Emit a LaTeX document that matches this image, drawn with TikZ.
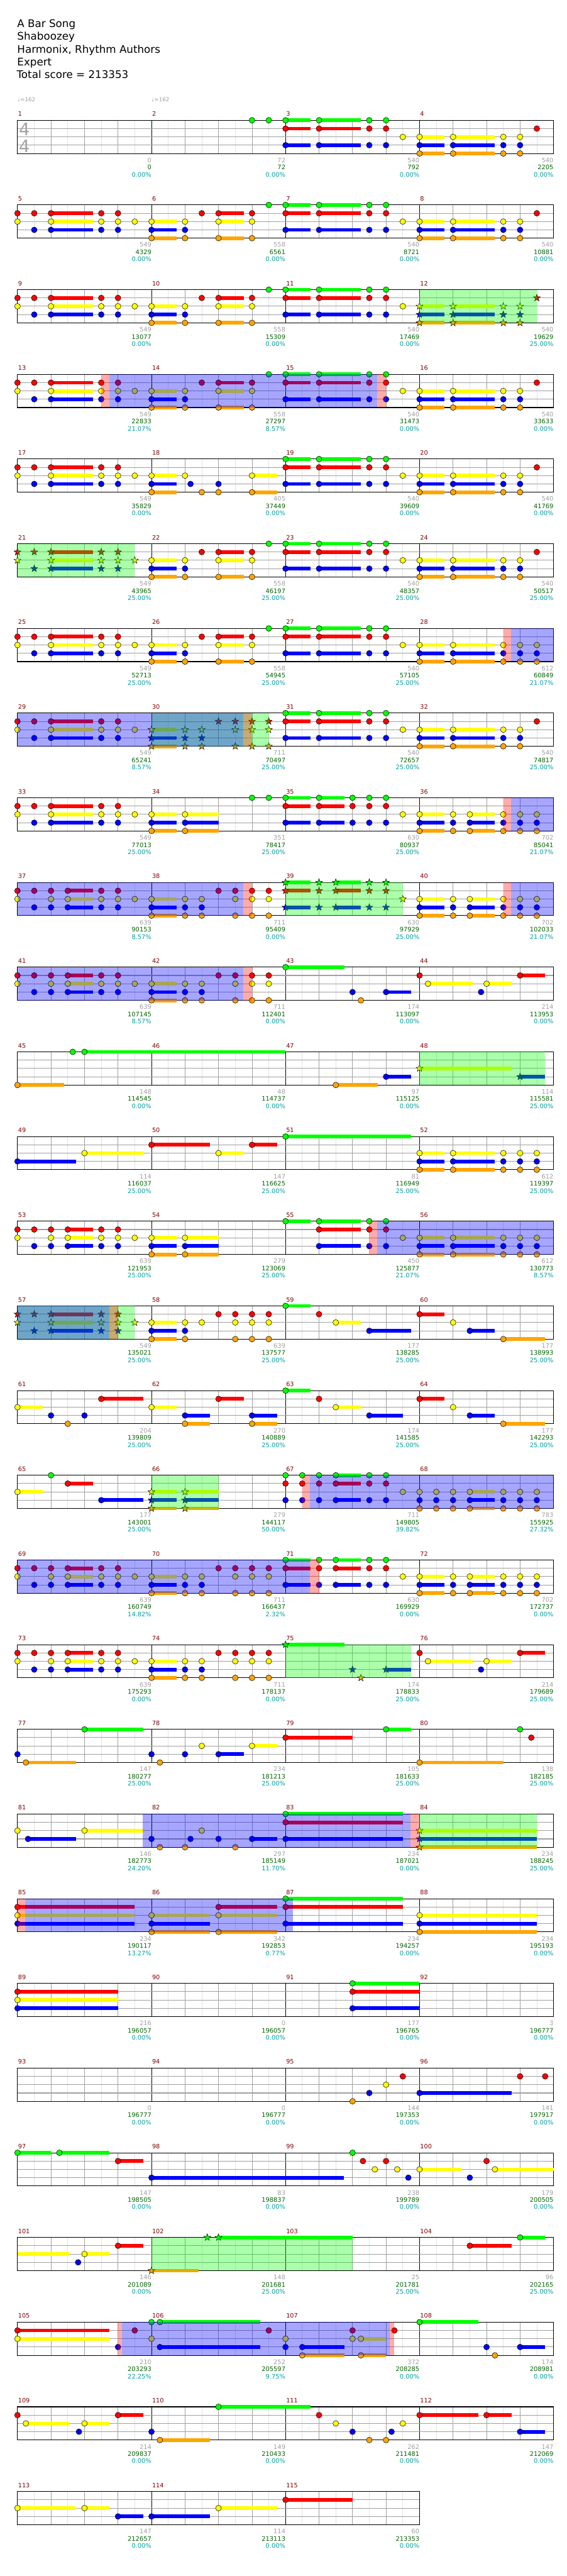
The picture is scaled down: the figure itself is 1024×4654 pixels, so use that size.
\documentclass[tikz,border=0pt]{standalone}
\usepackage{fontspec}
\setmainfont{DejaVu Sans}
\definecolor{lc0}{HTML}{00FF00}
\definecolor{lc1}{HTML}{FF0000}
\definecolor{lc2}{HTML}{FFFF00}
\definecolor{lc3}{HTML}{0000FF}
\definecolor{lc4}{HTML}{FFA500}
\definecolor{grideighth}{HTML}{E2E2E2}
\definecolor{gridbeat}{HTML}{A0A0A0}
\definecolor{lanegray}{HTML}{A0A0A0}
\definecolor{mred}{HTML}{800000}
\definecolor{lgray}{HTML}{A0A0A0}
\definecolor{lgreen}{HTML}{006400}
\definecolor{lteal}{HTML}{00A0A0}
\definecolor{tsgray}{HTML}{A4A4A4}
\tikzset{
  notestyle/.style={draw=black,line width=0.6},
  mnum/.style={font=\fontsize{11}{12}\selectfont,text=mred,inner sep=0,anchor=base west},
  lbl/.style={font=\fontsize{11.2}{12}\selectfont,inner sep=0,anchor=base east},
  titletext/.style={font=\fontsize{19}{22}\selectfont,inner sep=0,anchor=base west},
  tempo/.style={font=\fontsize{10}{11}\selectfont,text=lgray,inner sep=0,anchor=base west},
  tsig/.style={font=\fontsize{31}{32}\selectfont,text=tsgray,inner sep=0,anchor=base west},
  ovg/.style={fill=lc0,fill opacity=0.33},
  ovp/.style={fill=lc1,fill opacity=0.33},
  ovb/.style={fill=lc3,fill opacity=0.35},
}
% position of measure #1, eighth #2
\newcommand\mpos[2]{%
  \pgfmathtruncatemacro\Rw{(#1-0.5)/4}%
  \pgfmathsetmacro\Xp{31.6+242.25*(#1-1-4*\Rw)+30.28*(#2)}%
  \pgfmathsetmacro\Tp{217.3+153*\Rw}%
}
\newcommand\noteC[4]{\mpos{#1}{#2}\pgfmathsetmacro\Yp{\Tp+15*#3}%
  \ifdim #4pt>0pt \fill[lc#3] (\Xp,\Yp-3.3) rectangle ({\Xp+30.28*#4},\Yp+3.3);\fi
  \draw[notestyle,fill=lc#3] (\Xp,\Yp) circle (5.2);}
\newcommand\noteS[4]{\mpos{#1}{#2}\pgfmathsetmacro\Yp{\Tp+15*#3}%
  \ifdim #4pt>0pt \fill[lc#3] (\Xp,\Yp-3.3) rectangle ({\Xp+30.28*#4},\Yp+3.3);\fi
  \draw[notestyle,fill=lc#3] (\Xp,\Yp) +(-90:6.6) -- +(-54:2.7) -- +(-18:6.6) -- +(18:2.7) -- +(54:6.6) -- +(90:2.7) -- +(126:6.6) -- +(162:2.7) -- +(198:6.6) -- +(234:2.7) -- cycle;}
\newcommand\susbar[4]{\mpos{#1}{#2}\pgfmathsetmacro\Yp{\Tp+15*#3}%
  \fill[lc#3] (\Xp,\Yp-3.3) rectangle ({\Xp+30.28*#4},\Yp+3.3);}
\newcommand\chd[4]{\foreach \lane in {#3}{\noteC{#1}{#2}{\lane}{#4}}}
\newcommand\schd[4]{\foreach \lane in {#3}{\noteS{#1}{#2}{\lane}{#4}}}
\newcommand\ovl[4]{\mpos{#2}{#3}%
  \fill[#1] (\Xp,\Tp) rectangle ({\Xp+30.28*(#4-#3)},\Tp+60);}
\newcommand\rowgrid[2]{%
  \pgfmathsetmacro\Tr{217.3+153*#1}%
  \pgfmathsetmacro\Rr{31.6+242.25*#2}%
  \pgfmathtruncatemacro\Nr{8*#2-1}%
  \foreach \k in {1,...,\Nr}{%
    \pgfmathtruncatemacro\mk{mod(\k,8)}%
    \pgfmathtruncatemacro\mh{mod(\k,2)}%
    \ifnum\mk=0 \def\gc{black}\else\ifnum\mh=1 \def\gc{grideighth}\else\def\gc{gridbeat}\fi\fi
    \draw[\gc,line width=0.9] ({31.6+30.28*\k},\Tr) -- ({31.6+30.28*\k},\Tr+60);
  }%
  \foreach \j in {1,2,3}{\draw[lanegray,line width=1.2] (31.6,\Tr+15*\j) -- (\Rr,\Tr+15*\j);}%
  \draw[black,line width=1.2] (31.6,\Tr) rectangle (\Rr,\Tr+60);
}
\newcommand\meas[4]{%
  \mpos{#1}{0}%
  \node[mnum] (n#1) at (\Xp+1,\Tp-7.3) {#1};
  \mpos{#1}{8}%
  \node[lbl,text=lgray] (a#1) at (\Xp,\Tp+76.2) {#2};
  \node[lbl,text=lgreen] (b#1) at (\Xp,\Tp+89.2) {#3};
  \node[lbl,text=lteal] (c#1) at (\Xp,\Tp+102.2) {#4\%};
}
% patterns
\newcommand\PatA[2][\chd]{#1{#2}{0}{0,1,3}{1.5}#1{#2}{2}{0,1,3}{2.5}#1{#2}{5}{0,1,3}{0}#1{#2}{6}{0,1,3}{0}#1{#2}{7}{2}{0}}
\newcommand\PatB[2][\chd]{#1{#2}{0}{2,3,4}{1.5}#1{#2}{2}{2,3,4}{2.5}#1{#2}{5}{2,3,4}{0}#1{#2}{6}{2,3,4}{0}#1{#2}{7}{1}{0}}
\newcommand\PatBx[2][\chd]{#1{#2}{0}{2,3,4}{1.5}#1{#2}{2}{2,3,4}{2.5}#1{#2}{5}{2,3,4}{0}#1{#2}{6}{2,3,4}{0}#1{#2}{7}{2,3,4}{0}}
\newcommand\PatC[2][\chd]{#1{#2}{0}{1,2}{0}#1{#2}{1}{1,3}{0}#1{#2}{2}{1,2,3}{2.5}#1{#2}{5}{1,2,3}{0}#1{#2}{6}{1,2,3}{0}#1{#2}{7}{2}{0}}
\newcommand\PatD[2][\chd]{#1{#2}{0}{2,3,4}{1.5}#1{#2}{2}{2,3,4}{0}#1{#2}{3}{1}{0}#1{#2}{4}{1,2,4}{1.5}#1{#2}{6}{1,2,4}{0}#1{#2}{7}{0}{0}}
\newcommand\PatE[2][\chd]{#1{#2}{0}{1,2}{0}#1{#2}{1}{1,3}{0}#1{#2}{2}{1,2,3}{0}#1{#2}{3}{1,2,3}{1.5}#1{#2}{5}{1,2,3}{0}#1{#2}{6}{1,2,3}{0}#1{#2}{7}{2}{0}}
\newcommand\PatF[2][\chd]{#1{#2}{0}{2,3,4}{1.5}#1{#2}{2}{2,3,4}{0}#1{#2}{3}{2,3,4}{0}#1{#2}{4}{1}{0}#1{#2}{5}{1,2,4}{0}#1{#2}{6}{1,2,4}{0}#1{#2}{7}{1,2,4}{0}}
\newcommand\PatG[2][\chd]{#1{#2}{0}{2,3,4}{1.5}#1{#2}{2}{2,3,4}{0}#1{#2}{3}{2,3,4}{1.5}#1{#2}{5}{2,3,4}{0}#1{#2}{6}{2,3,4}{0}#1{#2}{7}{2,3,4}{0}}
\newcommand\PatH[2][\chd]{#1{#2}{0}{0,1,3}{1.5}#1{#2}{2}{0,1,3}{0}#1{#2}{3}{0,1,3}{1.5}#1{#2}{5}{0,1,3}{0}#1{#2}{6}{0,1,3}{0}#1{#2}{7}{2}{0}}
\begin{document}
\begin{tikzpicture}[x=1pt,y=-1pt]
\fill[white] (0,0) rectangle (1024,4654);
\useasboundingbox (0,0) rectangle (1024,4654);
% header
\node[titletext] (t1) at (31,49.5) {A Bar Song};
\node[titletext] (t2) at (31,72.5) {Shaboozey};
\node[titletext] (t3) at (31,95.5) {Harmonix, Rhythm Authors};
\node[titletext] (t4) at (31,118.2) {Expert};
\node[titletext] (t5) at (30,141) {Total score = 213353};
\node[tempo] (tp1) at (31.6,184) {♩=162};
\node[tempo] (tp2) at (273.9,184) {♩=162};
% grids
\foreach \r in {0,...,27}{\rowgrid{\r}{4}}
\rowgrid{28}{3}
\node[tsig] (ts1) at (34,245) {4};
\node[tsig] (ts2) at (34,275) {4};
% notes
\chd{2}{6}{0}{0}\chd{2}{7}{0}{0}\PatA{3}\PatB{4}
\PatC{5}\PatD{6}\PatA{7}\PatB{8}
\PatC{9}\PatD{10}\PatA{11}\PatB[\schd]{12}
\PatC{13}\PatD{14}\PatA{15}\PatB{16}
\PatC{17}
\chd{18}{0}{2,3,4}{1.5}\chd{18}{2}{2}{0}\chd{18}{2.33}{3}{0}\chd{18}{3}{4}{0}\chd{18}{4}{3,4}{0}\chd{18}{6}{2,4}{1.5}
\PatA{19}\PatB{20}
\PatC[\schd]{21}\PatD{22}\PatA{23}\PatB{24}
\PatC{25}\PatD{26}\PatA{27}\PatBx{28}
\PatC{29}\PatF[\schd]{30}\PatA{31}\PatB{32}
\PatC{33}
\chd{34}{0}{2,3,4}{1.5}\chd{34}{2}{2,3,4}{2}\chd{34}{6}{0}{0}\chd{34}{7}{0}{0}
\chd{35}{0}{0,1,3}{1.5}\chd{35}{2}{0,1,3}{1.5}\chd{35}{4}{0,1,3}{0}\chd{35}{5}{0,1,3}{0}\chd{35}{6}{0,1,3}{0}\chd{35}{7}{2}{0}
\PatG{36}
\PatE{37}\PatF{38}\PatH[\schd]{39}\PatG{40}
\PatE{41}\PatF{42}
\chd{43}{0}{0}{3.5}\chd{43}{4}{3}{0}\chd{43}{4.5}{4}{0}\chd{43}{6}{3}{1.5}
\chd{44}{0}{1}{0}\chd{44}{0.5}{2}{2.66}\chd{44}{3.67}{3}{0}\chd{44}{4}{2}{1.5}\chd{44}{6}{1}{1.5}
\chd{45}{0}{4}{2.8}\chd{45}{3.3}{0}{0}\chd{45}{4}{0}{12}
\chd{47}{3}{4}{2.5}\chd{47}{6}{3}{1.5}
\schd{48}{0}{2}{5.5}\schd{48}{6}{3}{1.5}
\chd{49}{0}{3}{3.5}\chd{49}{4}{2}{3.5}
\chd{50}{0}{1}{3.5}\chd{50}{4}{2}{1.5}\chd{50}{6}{1}{1.5}
\chd{51}{0}{0}{7.5}
\PatBx{52}
\PatE{53}
\chd{54}{0}{2,3,4}{1.5}\chd{54}{2}{2,3,4}{2}
\chd{55}{0}{0}{1.5}\chd{55}{2}{0,1,3}{2.5}\chd{55}{5}{0,1,3}{0}\chd{55}{6}{0,1,3}{0}\chd{55}{7}{2}{0}
\PatBx{56}
\PatC[\schd]{57}
\chd{58}{0}{2,3,4}{1.5}\chd{58}{2}{2,3,4}{0}\chd{58}{3}{2}{0}\chd{58}{4}{1}{0}\chd{58}{5}{1,2,4}{0}\chd{58}{6}{1,2,4}{0}\chd{58}{7}{1,2,4}{0}
\chd{59}{0}{0}{1.5}\chd{59}{2}{1}{0}\chd{59}{3}{2}{1.5}\chd{59}{5}{3}{2.5}
\chd{60}{0}{1}{1.5}\chd{60}{2}{2}{0}\chd{60}{3}{3}{1.5}\chd{60}{5}{4}{2.5}
\chd{61}{0}{2}{1.5}\chd{61}{2}{3}{0}\chd{61}{3}{4}{0}\chd{61}{4}{3}{0}\chd{61}{5}{1}{2.5}
\chd{62}{0}{2}{1.5}\chd{62}{2}{3,4}{1.5}\chd{62}{4}{1}{1.5}\chd{62}{6}{3,4}{1.5}
\chd{63}{0}{0}{1.5}\chd{63}{2}{1}{0}\chd{63}{3}{2}{1.5}\chd{63}{5}{3}{2}
\chd{64}{0}{1}{1.5}\chd{64}{2}{2}{0}\chd{64}{3}{3}{1.5}\chd{64}{5}{4}{2.5}
\chd{65}{0}{2}{1.5}\chd{65}{2}{0}{0}\chd{65}{3}{1}{1.5}\chd{65}{5}{3}{2.5}
\schd{66}{0}{2,3,4}{1.5}\schd{66}{2}{2,3,4}{2}
\chd{67}{0}{0,1,3}{0}\chd{67}{1}{0,1,3}{0}\chd{67}{2}{0,1,3}{0}\chd{67}{3}{0,1,3}{1.5}\chd{67}{5}{0,1,3}{0}\chd{67}{6}{0,1,3}{0}\chd{67}{7}{2}{0}
\chd{68}{0}{2,3,4}{0}\chd{68}{1}{2,3,4}{0}\chd{68}{2}{2,3,4}{0}\chd{68}{3}{2,3,4}{1.5}\chd{68}{5}{2,3,4}{0}\chd{68}{6}{2,3,4}{0}\chd{68}{7}{2,3,4}{0}
\PatE{69}\PatF{70}\PatH{71}\PatG{72}
\PatE{73}\PatF{74}
\schd{75}{0}{0}{3.5}\schd{75}{4}{3}{0}\schd{75}{4.5}{4}{0}\schd{75}{6}{3}{1.5}
\chd{76}{0}{1}{0}\chd{76}{0.5}{2}{2.66}\chd{76}{3.67}{3}{0}\chd{76}{4}{2}{1.5}\chd{76}{6}{1}{1.5}
\chd{77}{0}{3}{0}\chd{77}{0.5}{4}{3}\chd{77}{4}{0}{3.5}
\chd{78}{0}{3}{0}\chd{78}{0.5}{4}{0}\chd{78}{2}{3}{0}\chd{78}{3}{2}{0}\chd{78}{4}{3}{1.5}\chd{78}{6}{2}{1.5}
\chd{79}{0}{1}{4}\chd{79}{6}{0}{1.5}
\chd{80}{0}{4}{5}\chd{80}{6}{0}{0}\chd{80}{6.67}{1}{0}
\chd{81}{0}{2}{0}\chd{81}{0.63}{3}{2.85}\chd{81}{4}{2}{3.5}
\chd{82}{0}{3}{0}\chd{82}{0.5}{4}{0}\chd{82}{2}{4}{0}\chd{82}{2.33}{3}{0}\chd{82}{3}{2}{0}\chd{82}{4}{3}{0}\chd{82}{5}{4}{0}\chd{82}{6}{3}{1.5}
\chd{83}{0}{0,1,3}{7}
\schd{84}{0}{2,3,4}{7}
\chd{85}{0}{1,2,3}{7}
\chd{86}{0}{2,3,4}{3.5}\chd{86}{4}{1,2,4}{3.5}
\chd{87}{0}{0,1,3}{7}
\chd{88}{0}{2,3,4}{7}
\chd{89}{0}{1,2,3}{6}
\chd{91}{4}{0,1,3}{4}
\chd{95}{4}{4}{0}\chd{95}{5}{3}{0}\chd{95}{6}{2}{0}\chd{95}{7}{1}{0}
\chd{96}{0}{3}{5.5}\chd{96}{6}{1}{0}\chd{96}{7.5}{1}{0}
\chd{97}{0}{0}{2}\chd{97}{2.5}{0}{3}\chd{97}{6}{1}{1.5}
\chd{98}{0}{3}{11.5}
\chd{99}{4}{0}{0}\chd{99}{4.62}{1}{0}\chd{99}{5.33}{2}{0}\chd{99}{6}{1}{0}\chd{99}{6.67}{2}{0}\chd{99}{7.33}{3}{0}
\chd{100}{0}{2}{2.5}\chd{100}{3}{3}{0}\chd{100}{4}{1}{0}\chd{100}{4.5}{2}{3.5}
\susbar{101}{0}{2}{3.1}\chd{101}{3.62}{3}{0}\chd{101}{4}{2}{1.5}\chd{101}{6}{1}{1.5}
\schd{102}{0}{4}{2.83}\schd{102}{3.33}{0}{0}\schd{102}{4}{0}{8}
\chd{104}{3}{1}{2.5}\chd{104}{6}{0}{1.5}
\chd{105}{0}{1,2}{5.5}\chd{105}{6}{3}{0}\chd{105}{7}{1}{0}
\chd{106}{0}{0,2}{0}\chd{106}{0.5}{0,3}{6}\chd{106}{7}{1}{0}
\chd{107}{0}{2,3}{0}\chd{107}{1}{3,4}{2.5}\chd{107}{4}{1,2}{0}\chd{107}{4.5}{2,4}{1.5}\chd{107}{6.5}{1}{0}
\chd{108}{0}{0}{3.5}\chd{108}{4}{3}{0}\chd{108}{4.5}{4}{0}\chd{108}{6}{3}{1.5}
\chd{109}{0}{1}{0}\chd{109}{0.5}{2}{2.6}\chd{109}{3.67}{3}{0}\chd{109}{4}{2}{1.5}\chd{109}{6}{1}{1.5}
\chd{110}{0}{3}{0}\chd{110}{0.5}{4}{3}\chd{110}{4}{0}{5.5}
\chd{111}{2}{1}{0}\chd{111}{3}{2}{0}\chd{111}{4}{3}{0}\chd{111}{5}{4}{0}\chd{111}{6}{4}{0}\chd{111}{6.33}{3}{0}\chd{111}{7}{2}{0}
\chd{112}{0}{1}{3.5}\chd{112}{4}{1}{1.5}\chd{112}{6}{3}{1.5}
\chd{113}{0}{2}{3.5}\chd{113}{4}{2}{1.5}\chd{113}{6}{3}{1.5}
\chd{114}{0}{3}{3.5}\chd{114}{4}{2}{3.5}
\chd{115}{0}{1}{4}
% overlays: green, then pink, then blue
\ovl{ovg}{12}{0}{7}\ovl{ovg}{21}{0}{7}\ovl{ovg}{30}{0}{7}\ovl{ovg}{39}{0}{7}
\ovl{ovg}{48}{0}{7.5}\ovl{ovg}{57}{0}{7}\ovl{ovg}{66}{0}{4}\ovl{ovg}{75}{0}{7.5}
\ovl{ovg}{84}{0}{7}\ovl{ovg}{102}{0}{12}
\ovl{ovp}{13}{5}{5.47}\ovl{ovp}{15}{5.47}{6}\ovl{ovp}{28}{5}{5.47}\ovl{ovp}{30}{5.47}{6}
\ovl{ovp}{36}{5}{5.47}\ovl{ovp}{38}{5.47}{6}\ovl{ovp}{40}{5}{5.47}\ovl{ovp}{42}{5.47}{6}
\ovl{ovp}{55}{5}{5.47}\ovl{ovp}{57}{5.47}{6}\ovl{ovp}{67}{1}{1.47}\ovl{ovp}{71}{1.47}{2}
\ovl{ovp}{83}{7.45}{8}\ovl{ovp}{85}{0}{0.47}\ovl{ovp}{105}{6}{6.23}\ovl{ovp}{107}{6.21}{6.5}
\ovl{ovb}{13}{5.47}{21.47}\ovl{ovb}{28}{5.47}{8}\ovl{ovb}{29}{0}{13.47}
\ovl{ovb}{36}{5.47}{8}\ovl{ovb}{37}{0}{13.47}\ovl{ovb}{40}{5.47}{8}\ovl{ovb}{41}{0}{13.47}
\ovl{ovb}{55}{5.47}{16}\ovl{ovb}{57}{0}{5.47}\ovl{ovb}{67}{1.47}{16}\ovl{ovb}{69}{0}{17.47}
\ovl{ovb}{81}{7.47}{23.45}\ovl{ovb}{85}{0.47}{16.44}\ovl{ovb}{105}{6.23}{22.21}
% measure labels
\foreach \m/\a/\b/\c in {1/0/0/0.00,2/72/72/0.00,3/540/792/0.00,4/540/2205/0.00,
5/549/4329/0.00,6/558/6561/0.00,7/540/8721/0.00,8/540/10881/0.00,
9/549/13077/0.00,10/558/15309/0.00,11/540/17469/0.00,12/540/19629/25.00,
13/549/22833/21.07,14/558/27297/8.57,15/540/31473/0.00,16/540/33633/0.00,
17/549/35829/0.00,18/405/37449/0.00,19/540/39609/0.00,20/540/41769/0.00,
21/549/43965/25.00,22/558/46197/25.00,23/540/48357/25.00,24/540/50517/25.00,
25/549/52713/25.00,26/558/54945/25.00,27/540/57105/25.00,28/612/60849/21.07,
29/549/65241/8.57,30/711/70497/25.00,31/540/72657/25.00,32/540/74817/25.00,
33/549/77013/25.00,34/351/78417/25.00,35/630/80937/25.00,36/702/85041/21.07,
37/639/90153/8.57,38/711/95409/0.00,39/630/97929/25.00,40/702/102033/21.07,
41/639/107145/8.57,42/711/112401/0.00,43/174/113097/0.00,44/214/113953/0.00,
45/148/114545/0.00,46/48/114737/0.00,47/97/115125/0.00,48/114/115581/25.00,
49/114/116037/25.00,50/147/116625/25.00,51/81/116949/25.00,52/612/119397/25.00,
53/639/121953/25.00,54/279/123069/25.00,55/450/125877/21.07,56/612/130773/8.57,
57/549/135021/25.00,58/639/137577/25.00,59/177/138285/25.00,60/177/138993/25.00,
61/204/139809/25.00,62/270/140889/25.00,63/174/141585/25.00,64/177/142293/25.00,
65/177/143001/25.00,66/279/144117/50.00,67/711/149805/39.82,68/783/155925/27.32,
69/639/160749/14.82,70/711/166437/2.32,71/630/169929/0.00,72/702/172737/0.00,
73/639/175293/0.00,74/711/178137/0.00,75/174/178833/25.00,76/214/179689/25.00,
77/147/180277/25.00,78/234/181213/25.00,79/105/181633/25.00,80/138/182185/25.00,
81/146/182773/24.20,82/297/185149/11.70,83/234/187021/0.00,84/234/188245/25.00,
85/234/190117/13.27,86/342/192853/0.77,87/234/194257/0.00,88/234/195193/0.00,
89/216/196057/0.00,90/0/196057/0.00,91/177/196765/0.00,92/3/196777/0.00,
93/0/196777/0.00,94/0/196777/0.00,95/144/197353/0.00,96/141/197917/0.00,
97/147/198505/0.00,98/83/198837/0.00,99/238/199789/0.00,100/179/200505/0.00,
101/146/201089/0.00,102/148/201681/25.00,103/25/201781/25.00,104/96/202165/25.00,
105/210/203293/22.25,106/252/205597/9.75,107/372/208285/0.00,108/174/208981/0.00,
109/214/209837/0.00,110/149/210433/0.00,111/262/211481/0.00,112/147/212069/0.00,
113/147/212657/0.00,114/114/213113/0.00,115/60/213353/0.00}{\meas{\m}{\a}{\b}{\c}}
\end{tikzpicture}
\end{document}
